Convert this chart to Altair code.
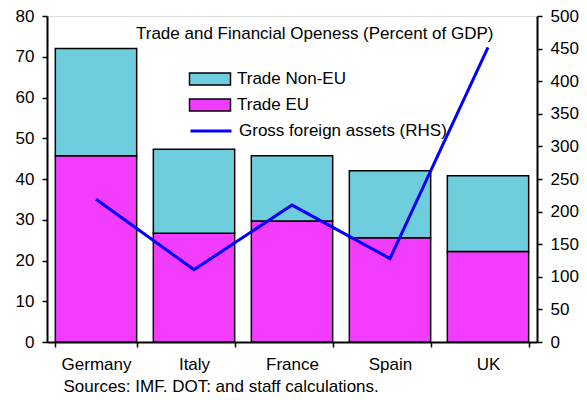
import altair as alt
import pandas as pd

countries = ["Germany", "Italy", "France", "Spain", "UK"]
trade_eu = [45.7, 26.7, 29.7, 25.6, 22.2]
trade_non_eu = [26.3, 20.6, 16.0, 16.4, 18.6]
gross_assets = [219, 111, 210, 128, 452]
bar_series = ["Trade Non-EU", "Trade EU"]
bar_colors = ["#6FCEDE", "#F23CFF"]
line_series = "Gross foreign assets (RHS)"
line_color = "#0000FF"
left_ticks = [0, 10, 20, 30, 40, 50, 60, 70, 80]
right_ticks = [0, 50, 100, 150, 200, 250, 300, 350, 400, 450, 500]

bars_df = pd.DataFrame({
    "country": countries * 2,
    "series": ["Trade EU"] * 5 + ["Trade Non-EU"] * 5,
    "value": trade_eu + trade_non_eu,
    "order": [0] * 5 + [1] * 5,
})
line_df = pd.DataFrame({"country": countries, "gross": gross_assets,
                        "series": [line_series] * 5})

FONT = "Liberation Sans"
FS = 17
RECT_PATH = "M-2,-0.585H2V0.585H-2Z"
LINE_PATH = "M-2,0H2"

x_enc = alt.X(
    "country:N",
    sort=countries,
    scale=alt.Scale(domain=countries, paddingInner=0.17, paddingOuter=0.085),
    axis=alt.Axis(
        title="Sources: IMF, DOT; and staff calculations.",
        titleAnchor="start", titleAlign="left", titleX=16, titleY=49,
        titleBaseline="alphabetic", titleFontSize=FS, titleFontWeight="normal",
        titleFont=FONT, titleColor="black", titleLimit=600,
        labelAngle=0, labelFontSize=FS, labelFont=FONT, labelColor="black",
        labelPadding=9, tickBand="extent", tickSize=5, tickColor="black",
        tickWidth=1.5, domainColor="black", domainWidth=2,
    ),
)

bars = alt.Chart(bars_df).mark_bar(stroke="black", strokeWidth=1.5, opacity=1).encode(
    x=x_enc,
    y=alt.Y(
        "value:Q", stack="zero",
        scale=alt.Scale(domain=[0, 80], nice=False),
        axis=alt.Axis(
            title=None, values=left_ticks, orient="left", grid=False,
            labelFontSize=FS, labelFont=FONT, labelColor="black", labelPadding=8,
            tickSize=5, tickColor="black", tickWidth=1.5,
            domainColor="black", domainWidth=2,
        ),
    ),
    color=alt.Color(
        "series:N",
        scale=alt.Scale(domain=bar_series, range=bar_colors),
        legend=alt.Legend(
            title=None, orient="none", legendX=152, legendY=52,
            symbolType=RECT_PATH, symbolSize=420, symbolStrokeColor="black",
            symbolStrokeWidth=1.5, symbolOpacity=1,
            labelFontSize=FS, labelFont=FONT, labelColor="black", labelLimit=400,
            labelOffset=16, rowPadding=6,
        ),
    ),
    order=alt.Order("order:Q", sort="ascending"),
)

line = alt.Chart(line_df).mark_line(strokeWidth=3, strokeJoin="miter").encode(
    x=alt.X("country:N", sort=countries),
    y=alt.Y(
        "gross:Q",
        scale=alt.Scale(domain=[0, 500], nice=False),
        axis=alt.Axis(
            title=None, values=right_ticks, orient="right", grid=False,
            labelFontSize=FS, labelFont=FONT, labelColor="black", labelPadding=8,
            tickSize=5, tickColor="black", tickWidth=1.5,
            domainColor="black", domainWidth=2,
        ),
    ),
    stroke=alt.Stroke(
        "series:N",
        scale=alt.Scale(domain=[line_series], range=[line_color]),
        legend=alt.Legend(
            title=None, orient="none", legendX=152, legendY=103,
            symbolType=LINE_PATH, symbolSize=420, symbolStrokeWidth=3,
            labelFontSize=FS, labelFont=FONT, labelColor="black", labelLimit=400,
            labelOffset=16,
        ),
    ),
)

chart = alt.layer(bars, line).resolve_scale(y="independent").properties(
    width=490, height=326,
    autosize=alt.AutoSizeParams(type="none"),
    padding={"left": 39, "top": 8, "right": 42, "bottom": 50},
    title=alt.TitleParams(
        "Trade and Financial Openess (Percent of GDP)",
        orient="top", anchor="start", frame="group", dx=89, dy=22, offset=-26.5,
        baseline="alphabetic", fontSize=FS, fontWeight="normal", font=FONT,
        color="black", limit=600,
    ),
).configure_view(stroke="black", strokeWidth=2).configure(background="white")

chart.save("out.html", embed_options={"renderer": "svg", "actions": False})
